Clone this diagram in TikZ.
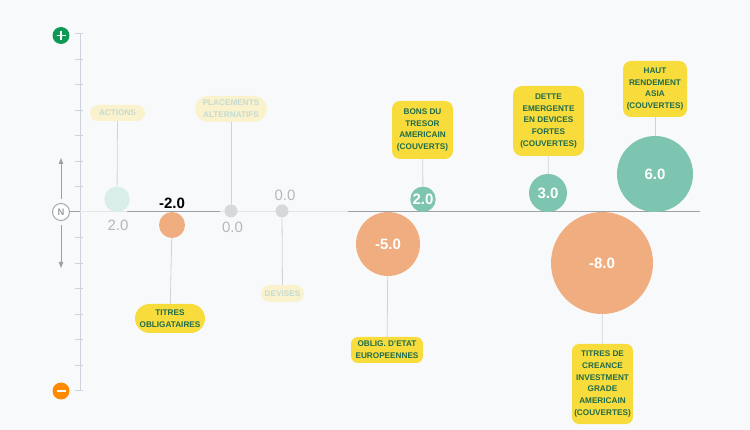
\documentclass[tikz,border=0pt]{standalone}
\usepackage{fontspec}
\setmainfont{Liberation Sans}
\usetikzlibrary{arrows.meta}
\definecolor{bgcol}{HTML}{F8F9FB}
\definecolor{teal}{HTML}{7DC5B0}
\definecolor{tealpale}{HTML}{D9EEE8}
\definecolor{peach}{HTML}{F0AE80}
\definecolor{neutral}{HTML}{D6D8DC}
\definecolor{tag}{HTML}{F7DC3C}
\definecolor{tagpale}{HTML}{FAF2CC}
\definecolor{tagtext}{HTML}{1F6B4C}
\definecolor{tagtextpale}{HTML}{C4DCD4}
\definecolor{stem}{HTML}{CCD3DD}
\definecolor{zerolight}{HTML}{E2E5E9}
\definecolor{zerodark}{HTML}{9BA1A8}
\definecolor{valgrey}{HTML}{B4B8BE}
\definecolor{plusgreen}{HTML}{0E9A55}
\definecolor{minusorange}{HTML}{FF8A00}

\begin{document}
\begin{tikzpicture}[x=1pt,y=-1pt]
  \tikzset{bubble/.style = {circle, inner sep = 0pt, text = white, font = \bfseries\fontsize{15}{15}\selectfont},
           tagbox/.style = {fill = tag, text = tagtext, inner sep = 0pt, align = center,
                            font = \bfseries\fontsize{8.2}{11.8}\selectfont},
           tagfade/.style = {tagbox, fill = tagpale, text = tagtextpale},
           link/.style = {draw = stem, line width = 0.8pt},
           valnote/.style = {text = valgrey, font = \fontsize{15}{15}\selectfont, inner sep = 0pt}}
  \fill[bgcol] (0,0) rectangle (750,430);
  \useasboundingbox (0,0) rectangle (750,430);

  % scale on the left
  \draw[stem, line width = 0.8pt] (80,33.5) -- (80,390.5);
  \foreach \k in {-7,...,-1,1,2,...,7}
    \draw[stem, line width = 0.8pt] (75,212+25.5*\k) -- (83,212+25.5*\k);
  \node[circle, fill = plusgreen, minimum size = 17pt, inner sep = 0pt] (plus) at (61,35.5) {};
  \draw[white, line width = 1.2pt] (plus.center) ++(-4.5,0) -- ++(9,0) (plus.center) ++(0,-4.5) -- ++(0,9);
  \node[circle, fill = minusorange, minimum size = 17pt, inner sep = 0pt] (minus) at (61,391) {};
  \draw[white, line width = 1.2pt] (minus.center) ++(-4.5,0) -- ++(9,0);
  \node[circle, draw = zerodark, fill = white, line width = 0.9pt, minimum size = 17pt, inner sep = 0pt,
        text = zerodark, font = \bfseries\fontsize{9.5}{9.5}\selectfont] (n) at (61,212) {N};
  \coordinate (upend) at (61,158);
  \coordinate (downend) at (61,268);
  \draw[zerodark, line width = 1pt, -{Triangle[length=6pt,width=4.5pt]}] ([yshift=-4pt]n.north) ++(0,-8) -- (upend);
  \draw[zerodark, line width = 1pt, -{Triangle[length=6pt,width=4.5pt]}] ([yshift=4pt]n.south) ++(0,8) -- (downend);

  % zero line
  \coordinate (axis0) at (80,212);
  \coordinate (zend) at (700,212);
  \coordinate (grpl) at (127,212);
  \coordinate (grpr) at (220,212);
  \coordinate (subl) at (348,212);
  \draw[zerolight, line width = 1pt] (axis0) -- (zend);
  \draw[zerodark, line width = 1pt] (n.east) -- (axis0);
  \draw[zerodark, line width = 1pt] (grpl) -- (grpr);
  \draw[zerodark, line width = 1pt] (subl) -- (zend);

  % asset classes
  \node[tagfade, minimum width = 55pt, minimum height = 16pt, rounded corners = 8pt] (actions) at (117.5,113) {ACTIONS};
  \node[tagbox, minimum width = 70pt, minimum height = 29pt, rounded corners = 14.5pt] (titres) at (170,318.5) {TITRES\\OBLIGATAIRES};
  \node[tagfade, minimum width = 72pt, minimum height = 26pt, rounded corners = 13pt] (placements) at (231,109) {PLACEMENTS\\ALTERNATIFS};
  \node[tagfade, minimum width = 43pt, minimum height = 17pt, rounded corners = 8.5pt] (devises) at (282.5,293.5) {DEVISES};

  \node[bubble, fill = tealpale, minimum size = 25.4pt] (b_actions) at (117,199.3) {};
  \node[bubble, fill = peach, minimum size = 26pt] (b_titres) at (172,225) {};
  \node[bubble, fill = neutral, minimum size = 13pt] (b_placements) at (231,211) {};
  \node[bubble, fill = neutral, minimum size = 13pt] (b_devises) at (282,211) {};

  \draw[link] (actions) -- (b_actions);
  \draw[link] (b_titres) -- (titres);
  \draw[link] (placements) -- (b_placements);
  \draw[link] (b_devises) -- (devises);

  \node[valnote] (v_actions) at (118,225) {2.0};
  \node[inner sep = 0pt, font = \bfseries\fontsize{15}{15}\selectfont] (v_titres) at (172,203) {-2.0};
  \node[valnote] (v_placements) at (232.5,227) {0.0};
  \node[valnote] (v_devises) at (285,195) {0.0};

  % bond segments
  \node[tagbox, minimum width = 61pt, minimum height = 58pt, rounded corners = 8pt] (bons) at (422.5,130) {BONS DU\\TRESOR\\AMERICAIN\\(COUVERTS)};
  \node[tagbox, minimum width = 71pt, minimum height = 70pt, rounded corners = 9pt] (dette) at (548.5,121) {DETTE\\EMERGENTE\\EN DEVICES\\FORTES\\(COUVERTES)};
  \node[tagbox, minimum width = 64pt, minimum height = 56pt, rounded corners = 8pt] (haut) at (655,89) {HAUT\\RENDEMENT\\ASIA\\(COUVERTES)};
  \node[tagbox, minimum width = 72pt, minimum height = 26pt, rounded corners = 7pt] (oblig) at (387,350) {OBLIG. D'ETAT\\EUROPEENNES};
  \node[tagbox, minimum width = 61pt, minimum height = 80pt, rounded corners = 7pt] (creance) at (602.5,384) {TITRES DE\\CREANCE\\INVESTMENT\\GRADE\\AMERICAIN\\(COUVERTES)};

  \node[bubble, fill = teal, minimum size = 25.4pt] (b_bons) at (423,199.3) {2.0};
  \node[bubble, fill = teal, minimum size = 38pt] (b_dette) at (548,193) {3.0};
  \node[bubble, fill = teal, minimum size = 76pt] (b_haut) at (655,174) {6.0};
  \node[bubble, fill = peach, minimum size = 64pt] (b_oblig) at (388,244) {-5.0};
  \node[bubble, fill = peach, minimum size = 102pt] (b_creance) at (602,263) {-8.0};

  \draw[link] (bons) -- (b_bons);
  \draw[link] (dette) -- (b_dette);
  \draw[link] (haut) -- (b_haut);
  \draw[link] (b_oblig) -- (oblig);
  \draw[link] (b_creance) -- (creance);
\end{tikzpicture}
\end{document}
